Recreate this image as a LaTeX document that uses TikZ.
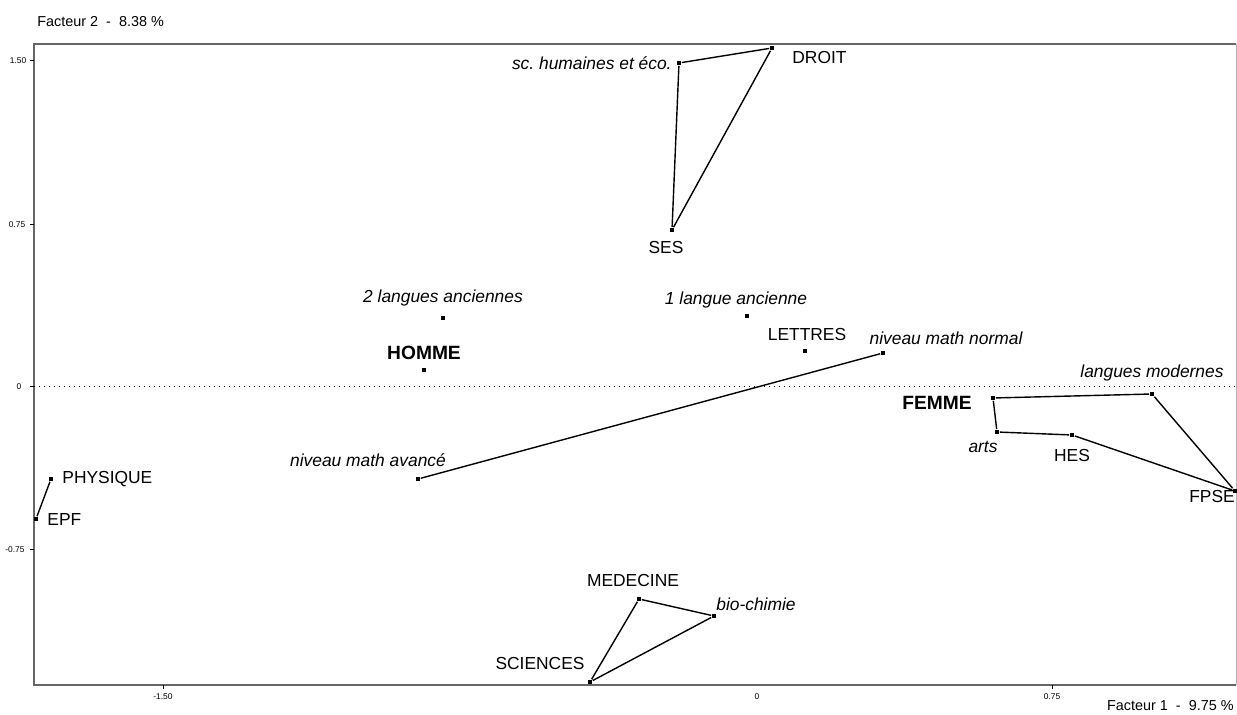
\documentclass[tikz,border=0pt]{standalone}
\usepackage{fontspec}
\setmainfont{Liberation Sans}
\frenchspacing
\begin{document}
\begin{tikzpicture}[x=0.5pt,y=-0.5pt,
  pt/.style={fill=black,inner sep=0pt,minimum size=2.4pt,rectangle},
  lab/.style={font=\fontsize{8.7}{9}\selectfont,inner sep=0pt},
  ilab/.style={font=\fontsize{8.7}{9}\selectfont\itshape,inner sep=0pt},
  blab/.style={font=\fontsize{9.6}{10}\selectfont\bfseries,inner sep=0pt},
  tick/.style={font=\fontsize{4.2}{4.2}\selectfont,inner sep=0pt},
  axlab/.style={font=\fontsize{7.2}{8}\selectfont,inner sep=0pt},
  seg/.style={line width=0.7pt,black}]
\useasboundingbox (0,0) rectangle (1237,715);
% frame
\draw[gray!80!black,line width=0.9pt] (1236,44) -- (34,44) -- (34,685) -- (1236,685);
\draw[gray!60,line width=0.5pt] (1236,44) -- (1236,685);
% zero line
\draw[dotted,line width=0.5pt] (34,387) -- (1236,387);
% ticks
\foreach \yy in {61,225,387,550} \draw[line width=0.5pt] (30,\yy) -- (34,\yy);
\foreach \xx in {163,1052} \draw[line width=0.5pt] (\xx,685) -- (\xx,689);
\node[tick] (t1) at (18,61) {1.50};
\node[tick] (t2) at (17,225) {0.75};
\node[tick] (t3) at (19,387) {0};
\node[tick] (t4) at (15,550) {-0.75};
\node[tick] (t5) at (163,697) {-1.50};
\node[tick] (t6) at (757,697) {0};
\node[tick] (t7) at (1052,697) {0.75};
\node[axlab,anchor=west] (fy) at (37,22) {Facteur 2 \ - \ 8.38 \%};
\node[axlab,anchor=east] (fx) at (1234,706) {Facteur 1 \ - \ 9.75 \%};
% points
\node[pt] (sch) at (679,63) {};
\node[pt] (droit) at (772,48) {};
\node[pt] (ses) at (672,230) {};
\node[pt] (l2) at (443,318) {};
\node[pt] (l1) at (747,316) {};
\node[pt] (lettres) at (805,351) {};
\node[pt] (mnorm) at (883,353) {};
\node[pt] (homme) at (424,370) {};
\node[pt] (mav) at (418,479) {};
\node[pt] (lmod) at (1152,394) {};
\node[pt] (femme) at (993,398) {};
\node[pt] (arts) at (997,432) {};
\node[pt] (hes) at (1072,435) {};
\node[pt] (fpse) at (1235,491) {};
\node[pt] (phys) at (51,479) {};
\node[pt] (epf) at (36,519) {};
\node[pt] (med) at (639,599) {};
\node[pt] (bio) at (714,616) {};
\node[pt] (sci) at (590,682) {};
% connectors
\draw[seg] (sch) -- (droit) -- (ses) -- (sch);
\draw[seg] (mav) -- (mnorm);
\draw[seg] (femme) -- (lmod) -- (fpse) -- (hes) -- (arts) -- (femme);
\draw[seg] (phys) -- (epf);
\draw[seg] (med) -- (bio) -- (sci) -- (med);
% labels
\node[ilab,anchor=east] (Lsch) at (672,63) {sc. humaines et éco.};
\node[lab,anchor=west] (Ldroit) at (792,58) {DROIT};
\node[lab] (Lses) at (666,248) {SES};
\node[ilab] (Ll2) at (443,298) {2 langues anciennes};
\node[ilab] (Ll1) at (736,300) {1 langue ancienne};
\node[lab] (Llettres) at (807,335) {LETTRES};
\node[ilab] (Lmnorm) at (946,338) {niveau math normal};
\node[blab] (Lhomme) at (424,353) {HOMME};
\node[ilab] (Lmav) at (368,460) {niveau math avancé};
\node[ilab] (Llmod) at (1152,373) {langues modernes};
\node[blab] (Lfemme) at (937,403) {FEMME};
\node[ilab] (Larts) at (983,447) {arts};
\node[lab] (Lhes) at (1072,456) {HES};
\node[lab] (Lfpse) at (1212,497) {FPSE};
\node[lab,anchor=west] (Lphys) at (62,479) {PHYSIQUE};
\node[lab,anchor=west] (Lepf) at (47,520) {EPF};
\node[lab] (Lmed) at (633,581) {MEDECINE};
\node[ilab] (Lbio) at (756,604) {bio-chimie};
\node[lab] (Lsci) at (540,664) {SCIENCES};
\end{tikzpicture}
\end{document}
